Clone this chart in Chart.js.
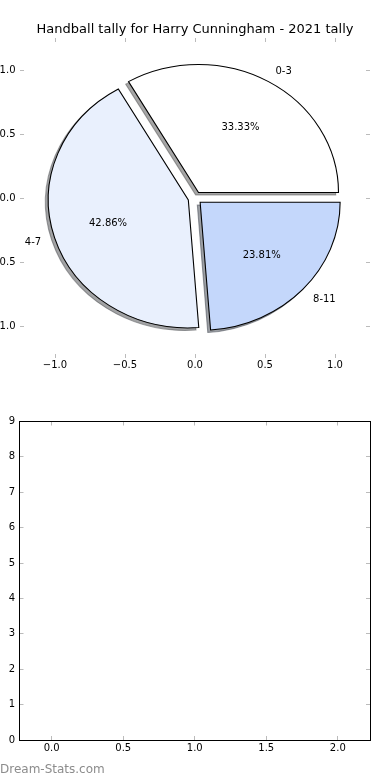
<!DOCTYPE html>
<html>
<head>
<meta charset="utf-8">
<script src="https://cdn.jsdelivr.net/npm/chart.js@4/dist/chart.umd.min.js"></script>
<style>
  html, body { margin: 0; padding: 0; background: #fff; }
  #wrap { position: relative; width: 390px; height: 780px; overflow: hidden; }
  canvas { position: absolute; left: 0; top: 0; }
  #emptyAxes { top: 390px; }
  #mark { position: absolute; left: 0; top: 762px; font: 12px "DejaVu Sans"; line-height: 14px; color: #8c8c8c; }
</style>
</head>
<body>
<div id="wrap">
  <canvas id="shadowPie" width="390" height="390"></canvas>
  <canvas id="pie" width="390" height="390"></canvas>
  <canvas id="pieAxes" width="390" height="390"></canvas>
  <canvas id="emptyAxes" width="390" height="390"></canvas>
  <div id="mark">Dream-Stats.com</div>
</div>
<script>
// pie data (matplotlib order, counter-clockwise from 3 o'clock)
var sliceLabels = ["0-3", "4-7", "8-11"];
var sliceValues = [7, 9, 5];
var sliceColors = ["#ffffff", "#e9f0fd", "#c4d7fb"];
var pieTitle = "Handball tally for Harry Cunningham - 2021 tally";
var pieTicks = [-1.0, -0.5, 0.0, 0.5, 1.0];

// lower (empty) axes
var lowerXTicks = [0.0, 0.5, 1.0, 1.5, 2.0];
var lowerYTicks = [0, 1, 2, 3, 4, 5, 6, 7, 8, 9];

// pie style
var explode = 0.05;
var labelDistance = 1.1;
var pctDistance = 0.6;
var shadowShift = 0.02;

Chart.defaults.font.family = "DejaVu Sans";
Chart.defaults.color = "#000";

function fmt1(v) {
  return (v < 0 ? "\u2212" : "") + Math.abs(v).toFixed(1);
}
function fmtInt(v) {
  return String(v);
}

// matplotlib-like axis: inward tick marks, fixed size
function axis(pos, min, max, ticks, fmt, size, pad, showLabels, showBorder) {
  return {
    type: "linear",
    position: pos,
    min: min,
    max: max,
    afterBuildTicks: function (s) {
      s.ticks = ticks.map(function (v) { return { value: v }; });
    },
    afterFit: function (s) {
      if (s.isHorizontal()) s.height = size; else s.width = size;
    },
    grid: { drawOnChartArea: false, drawTicks: true, tickLength: -4, tickColor: "#bbbbbb", tickWidth: 1 },
    border: { display: showBorder, color: "#000", width: 1 },
    ticks: {
      display: showLabels, padding: pad, color: "#000",
      font: { size: 10 }, maxRotation: 0, autoSkip: false,
      callback: fmt
    }
  };
}

// labels and percentages drawn in data coordinates
var pieLabelPlugin = {
  id: "pieLabels",
  afterDatasetsDraw: function (chart) {
    var ctx = chart.ctx, sx = chart.scales.x, sy = chart.scales.y;
    var total = sliceValues.reduce(function (a, b) { return a + b; }, 0);
    var start = 0;
    ctx.save();
    ctx.font = '10px "DejaVu Sans"';
    ctx.fillStyle = "#000";
    ctx.textBaseline = "middle";
    sliceValues.forEach(function (v, i) {
      var mid = (start + v / 2) / total * 2 * Math.PI;
      start += v;
      var c = Math.cos(mid), s = Math.sin(mid);
      var ox = explode * c, oy = explode * s;
      var lx = ox + labelDistance * c, ly = oy + labelDistance * s;
      ctx.textAlign = lx > 0 ? "left" : "right";
      ctx.fillText(sliceLabels[i], sx.getPixelForValue(lx), sy.getPixelForValue(ly) + 1);
      ctx.textAlign = "center";
      ctx.fillText((v / total * 100).toFixed(2) + "%",
        sx.getPixelForValue(ox + pctDistance * c), sy.getPixelForValue(oy + pctDistance * s) + 1);
    });
    ctx.restore();
  }
};

var axesChart = new Chart("pieAxes", {
  type: "scatter",
  data: { datasets: [{ data: [] }] },
  options: {
    responsive: false,
    animation: false,
    events: [],
    layout: { padding: 0 },
    plugins: {
      legend: { display: false },
      tooltip: { enabled: false },
      title: {
        display: true,
        text: pieTitle,
        color: "#000",
        font: { size: 13, weight: "normal" },
        padding: { top: 22.2, bottom: 0 }
      }
    },
    scales: {
      x: axis("bottom", -1.25, 1.25, pieTicks, fmt1, 32, 5, true, false),
      x2: axis("top", -1.25, 1.25, pieTicks, fmt1, 0.2, 0, false, false),
      y: axis("left", -1.25, 1.25, pieTicks, fmt1, 20, 8.5, true, false),
      y2: axis("right", -1.25, 1.25, pieTicks, fmt1, 20, 0, false, false)
    }
  },
  plugins: [pieLabelPlugin]
});

// geometry of the data axes, used to place the pie
var xs = axesChart.scales.x, ys = axesChart.scales.y;
var cx = xs.getPixelForValue(0), cy = ys.getPixelForValue(0);
var rx = xs.getPixelForValue(1) - cx;
var ry = cy - ys.getPixelForValue(1);
var H = 390, W = 390;
var piePadding = {
  top: cy >= H / 2 ? 2 * cy - H : 0,
  bottom: cy < H / 2 ? H - 2 * cy : 0,
  left: cx >= W / 2 ? 2 * cx - W : 0,
  right: cx < W / 2 ? W - 2 * cx : 0
};

// Chart.js goes clockwise on screen, matplotlib counter-clockwise
var order = sliceValues.map(function (v, i) { return i; }).reverse();

function shadowOf(hex) {
  var n = parseInt(hex.slice(1), 16);
  var r = (n >> 16) & 255, g = (n >> 8) & 255, b = n & 255;
  return "rgba(" + Math.round(r * 0.3) + "," + Math.round(g * 0.3) + "," + Math.round(b * 0.3) + ",0.5)";
}

function makePie(id, fills, edges, shift) {
  var wedgePlugin = {
    id: "wedges",
    afterUpdate: function (chart) {
      chart.getDatasetMeta(0).data.forEach(function (arc) {
        var mid = (arc.startAngle + arc.endAngle) / 2;
        arc.x += Math.cos(mid) * explode * ry - shift * ry;
        arc.y += Math.sin(mid) * explode * ry + shift * ry;
      });
    },
    beforeDatasetsDraw: function (chart) {
      var ctx = chart.ctx;
      ctx.save();
      ctx.translate(cx, 0);
      ctx.scale(rx / ry, 1);
      ctx.translate(-cx, 0);
    },
    afterDatasetsDraw: function (chart) {
      chart.ctx.restore();
    }
  };
  return new Chart(id, {
    type: "pie",
    data: {
      labels: order.map(function (i) { return sliceLabels[i]; }),
      datasets: [{
        data: order.map(function (i) { return sliceValues[i]; }),
        backgroundColor: order.map(function (i) { return fills[i]; }),
        borderColor: order.map(function (i) { return edges[i]; }),
        borderWidth: 1,
        borderJoinStyle: "miter",
        rotation: 90,
        radius: ry
      }]
    },
    options: {
      responsive: false,
      animation: false,
      events: [],
      rotation: 90,
      radius: ry,
      layout: { padding: piePadding },
      plugins: { legend: { display: false }, tooltip: { enabled: false } }
    },
    plugins: [wedgePlugin]
  });
}

var shadows = sliceColors.map(shadowOf);
makePie("shadowPie", shadows, shadows, shadowShift);
makePie("pie", sliceColors, sliceColors.map(function () { return "#000"; }), 0);

// lower empty axes
new Chart("emptyAxes", {
  type: "scatter",
  data: { datasets: [{ data: [] }] },
  options: {
    responsive: false,
    animation: false,
    events: [],
    layout: { padding: 0 },
    plugins: { legend: { display: false }, tooltip: { enabled: false } },
    scales: {
      x: axis("bottom", -0.225, 2.225, lowerXTicks, fmt1, 40, 6, true, true),
      x2: axis("top", -0.225, 2.225, lowerXTicks, fmt1, 31.5, 0, false, true),
      y: axis("left", 0, 9, lowerYTicks, fmtInt, 19.5, 8.5, true, true),
      y2: axis("right", 0, 9, lowerYTicks, fmtInt, 20, 0, false, true)
    }
  }
});
</script>
</body>
</html>
